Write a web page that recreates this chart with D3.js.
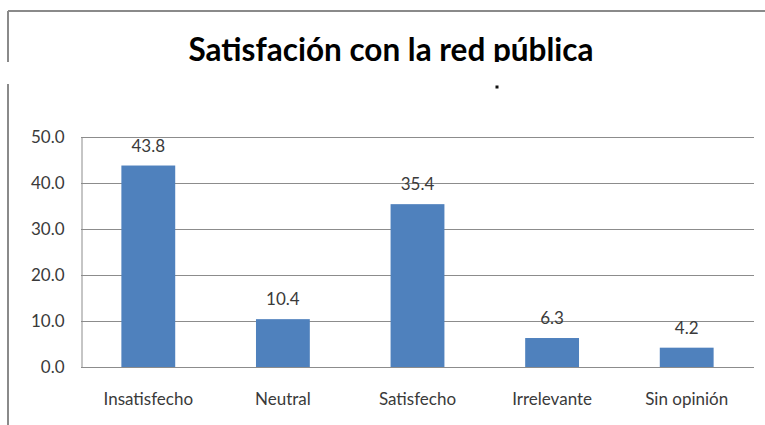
<!DOCTYPE html>
<html>
<head>
<meta charset="utf-8">
<script src="https://cdn.jsdelivr.net/npm/d3@7"></script>
<style>
  html, body { margin: 0; padding: 0; background: #fff; }
  svg { display: block; }
</style>
</head>
<body>
<svg id="chart" width="765" height="425"></svg>
<script>
const title = "Satisfación con la red pública";
const categories = ["Insatisfecho", "Neutral", "Satisfecho", "Irrelevante", "Sin opinión"];
const values = [43.8, 10.4, 35.4, 6.3, 4.2];
const yTicks = [0, 10, 20, 30, 40, 50];

const svg = d3.select("#chart");
const W = 765, H = 425;
const plot = { left: 81, right: 754, top: 137, bottom: 367 };
const font = "Lato, 'Open Sans', sans-serif";
const textColor = "#3a3a3a";
const gridColor = "#8c8c8c";

const x = d3.scaleBand().domain(categories).range([plot.left, plot.right]).paddingInner(0.6).paddingOuter(0.3);
const y = d3.scaleLinear().domain([0, 50]).range([plot.bottom, plot.top]);

// Outer chart frame (top + left)
svg.append("line").attr("x1", 8).attr("x2", W).attr("y1", 11).attr("y2", 11)
  .attr("stroke", "#8a8a8a").attr("stroke-width", 2);
svg.append("line").attr("x1", 8).attr("x2", 8).attr("y1", 11).attr("y2", H)
  .attr("stroke", "#8a8a8a").attr("stroke-width", 2);

// Title
svg.append("text").attr("x", 391).attr("y", 61)
  .attr("text-anchor", "middle")
  .attr("font-family", font).attr("font-weight", "bold").attr("font-size", 31.5)
  .attr("fill", "#000").text(title);

// White band clipping the title
svg.append("rect").attr("x", 0).attr("y", 62).attr("width", W).attr("height", 22).attr("fill", "#fff");
// stray dot
svg.append("rect").attr("x", 495.5).attr("y", 85.5).attr("width", 3).attr("height", 3).attr("fill", "#111");

// Gridlines
svg.append("g").selectAll("line").data(yTicks.filter(d => d > 0)).join("line")
  .attr("x1", plot.left).attr("x2", plot.right)
  .attr("y1", d => Math.round(y(d)) + 0.5).attr("y2", d => Math.round(y(d)) + 0.5)
  .attr("stroke", gridColor).attr("stroke-width", 1);

// Y axis
const yAxis = d3.axisLeft(y).tickValues(yTicks).tickFormat(d3.format(".1f")).tickSize(0).tickPadding(17);
const ya = svg.append("g").attr("transform", `translate(${plot.left + 0.5},0)`).call(yAxis);
ya.select(".domain").attr("stroke", gridColor);
ya.selectAll("text").attr("font-family", font).attr("font-size", 17).attr("fill", textColor);

// X axis
const xAxis = d3.axisBottom(x).tickSize(0).tickPadding(25);
const xa = svg.append("g").attr("transform", `translate(0,${plot.bottom + 0.5})`).call(xAxis);
xa.select(".domain").attr("stroke", gridColor).attr("d", `M${plot.left},0H${plot.right}`);
xa.selectAll("text").attr("font-family", font).attr("font-size", 17).attr("fill", textColor);

// Bars
svg.append("g").selectAll("rect").data(values).join("rect")
  .attr("x", (d, i) => x(categories[i]))
  .attr("width", x.bandwidth())
  .attr("y", d => y(d))
  .attr("height", d => y(0) - y(d))
  .attr("fill", "#4F81BD");

// Value labels
svg.append("g").selectAll("text").data(values).join("text")
  .attr("x", (d, i) => x(categories[i]) + x.bandwidth() / 2)
  .attr("y", d => y(d) - 14)
  .attr("text-anchor", "middle")
  .attr("font-family", font).attr("font-size", 17).attr("fill", textColor)
  .text(d => d3.format(".1f")(d));
</script>
</body>
</html>
